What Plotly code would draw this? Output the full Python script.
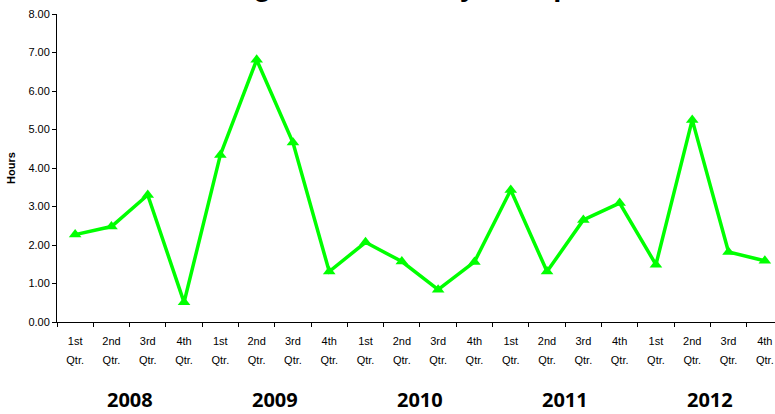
import plotly.graph_objects as go

years = ["2008", "2009", "2010", "2011", "2012"]
quarters = ["1st", "2nd", "3rd", "4th"]
hours = [2.27, 2.48, 3.30, 0.51,
         4.34, 6.81, 4.66, 1.31,
         2.07, 1.57, 0.84, 1.56,
         3.43, 1.31, 2.65, 3.09,
         1.49, 5.25, 1.82, 1.59]
y_ticks = [0, 1, 2, 3, 4, 5, 6, 7, 8]
title_text = "Average Downtime by Group"

cats = [f"{q} Qtr. {y}" for y in years for q in quarters]
line1 = [q for y in years for q in quarters]
line2 = ["Qtr." for y in years for q in quarters]

GREEN = "#00FF00"
TICKFONT = dict(family="Liberation Sans, Arial, sans-serif", size=11, color="#000000")

fig = go.Figure()
fig.add_trace(go.Scatter(
    x=cats, y=hours, mode="lines+markers",
    line=dict(color=GREEN, width=3.5),
    marker=dict(symbol="triangle-up", size=11, color=GREEN),
    showlegend=False, hoverinfo="x+y",
))
fig.add_trace(go.Scatter(
    x=cats, y=hours, xaxis="x2", mode="lines",
    line=dict(color="rgba(0,0,0,0)", width=0),
    showlegend=False, hoverinfo="skip",
))

n = len(cats)
fig.update_layout(
    width=775, height=414,
    margin=dict(l=57, r=0, t=14, b=92, autoexpand=False),
    paper_bgcolor="white", plot_bgcolor="white",
    xaxis=dict(
        type="category", categoryorder="array", categoryarray=cats,
        range=[-0.5, n - 0.72], automargin=False,
        tickvals=cats, ticktext=line1,
        tickson="boundaries", ticks="outside", ticklen=4, tickcolor="#000000", tickwidth=1,
        showline=True, linecolor="#000000", linewidth=1,
        showgrid=False, zeroline=False, tickfont=TICKFONT, tickangle=0,
        ticklabelstandoff=9,
    ),
    xaxis2=dict(
        type="category", categoryorder="array", categoryarray=cats,
        overlaying="x", matches="x", anchor="y", side="bottom", automargin=False,
        tickvals=cats, ticktext=line2, ticks="",
        showline=False, showgrid=False, zeroline=False,
        tickfont=TICKFONT, tickangle=0, ticklabelstandoff=30,
    ),
    yaxis=dict(
        range=[0, 8], tickvals=y_ticks, ticktext=[f"{v:.2f}" for v in y_ticks],
        automargin=False,
        ticks="outside", ticklen=4, tickcolor="#000000", tickwidth=1,
        showline=True, linecolor="#000000", linewidth=1,
        showgrid=False, zeroline=False, tickfont=TICKFONT,
        title=dict(text="<b>Hours</b>", font=dict(family="Liberation Sans, Arial, sans-serif", size=11, color="#000000"), standoff=10),
    ),
)

for i, yr in enumerate(years):
    center = i * len(quarters) + (len(quarters) - 1) / 2
    fig.add_annotation(
        x=center, y=-0.252, xref="x", yref="paper",
        text=f"<b>{yr}</b>", showarrow=False, yanchor="middle",
        font=dict(family="Open Sans, sans-serif", size=20, color="#000000"),
    )

fig.add_annotation(
    x=0.5, xref="paper", y=1.02, yref="paper", yanchor="bottom",
    xshift=-44, yshift=3.5,
    text=f"<b>{title_text}</b>", showarrow=False,
    font=dict(family="Liberation Sans, Arial, sans-serif", size=29, color="#000000"),
)

fig.write_html("out.html", config={"displayModeBar": False},
               post_script="document.body.style.margin='0';document.body.style.padding='0';")
